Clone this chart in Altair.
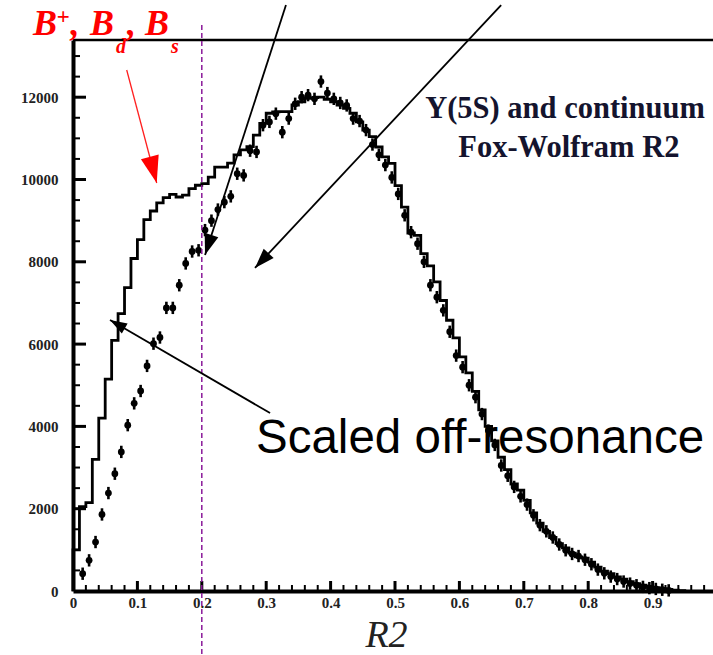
import math
import altair as alt
import pandas as pd

# ---------------- data ----------------
# Scaled off-resonance histogram: bins of width 0.01 starting at R2 = 0
hist_counts = [1000, 2050, 2150, 3200, 4200, 5150, 6090, 6740, 7370, 8080,
               8540, 9025, 9235, 9430, 9560, 9640, 9575, 9620, 9780, 9860,
               9900, 10060, 10300, 10300, 10400, 10600, 10720, 10800, 11080, 11365,
               11610, 11645, 11650, 11650, 11810, 11890, 11970, 11990, 12000, 11950,
               11890, 11810, 11730, 11610, 11400, 11200, 11040, 10790, 10550, 10390,
               9850, 9330, 8700, 8640, 8200, 7900, 7510, 7060, 6580, 6150,
               5690, 5300, 4850, 4400, 4000, 3650, 3250, 2950, 2600, 2450,
               2200, 1900, 1650, 1450, 1300, 1150, 1050, 920, 830, 800,
               700, 580, 480, 420, 340, 290, 230, 180, 140, 110,
               80, 60, 40, 20, 10]
hist_left = [round(i * 0.01, 2) for i in range(len(hist_counts))]

# Y(5S) data points, bin centres 0.015, 0.025, ...
pts_counts = [420, 745, 1190, 1860, 2380, 2850, 3380, 4030, 4560, 4860,
              5470, 6010, 6160, 6880, 6880, 7430, 7960, 8250, 8280, 8770,
              9000, 9270, 9450, 9590, 10140, 10100, 10700, 10670, 11320, 11400,
              11600, 11150, 11480, 11840, 12000, 12050, 11960, 12380, 12100, 11960,
              11860, 11800, 11480, 11420, 11200, 10850, 10600, 10350, 10050, 9650,
              9130, 8720, 8440, 8000, 7430, 7140, 6820, 6300, 5720, 5440,
              5000, 4710, 4300, 3900, 3550, 3050, 2800, 2530, 2300, 2100,
              1840, 1600, 1450, 1300, 1130, 990, 900, 850, 760, 650,
              520, 430, 350, 290, 230, 180, 140, 100, 70, 50,
              30, 15]
pts_x = [round(0.015 + i * 0.01, 3) for i in range(len(pts_counts))]

x_tick_labels = [0, 0.1, 0.2, 0.3, 0.4, 0.5, 0.6, 0.7, 0.8, 0.9]
x_minor = [round(0.02 * i, 2) for i in range(1, 50) if i % 5 != 0]
y_tick_labels = [0, 2000, 4000, 6000, 8000, 10000, 12000]
y_minor = [500 * i for i in range(1, 27) if i % 4 != 0]

# ---------------- geometry ----------------
W, H = 640, 551
XMAX = W / 644.0
YMAX = 13390
PX_X = 644.0
PX_Y = H / YMAX

xs = alt.Scale(domain=[0, XMAX], nice=False, zero=False)
ys = alt.Scale(domain=[0, YMAX], nice=False, zero=False)
x_axis = alt.Axis(values=x_tick_labels, format="~g", ticks=False, grid=False, title=None,
                  domainWidth=4, domainColor="black", labelFont="Liberation Serif",
                  labelFontWeight="bold", labelFontSize=15, labelColor="#222222",
                  labelPadding=4, labelFlush=False, labelOverlap=False, labelBound=False)
y_axis = alt.Axis(values=y_tick_labels, format="d", ticks=False, grid=False, title=None,
                  domainWidth=4, domainColor="black", labelFont="Liberation Serif",
                  labelFontWeight="bold", labelFontSize=15, labelColor="#222222",
                  labelPadding=15, labelFlush=False, labelOverlap=False, labelBound=False)


def X(f):
    return alt.X(f, type="quantitative", scale=xs, axis=x_axis)


def Y(f):
    return alt.Y(f, type="quantitative", scale=ys, axis=y_axis)


# histogram outline
hx = [0.0] + hist_left + [round(hist_left[-1] + 0.01, 2)]
hy = [0] + hist_counts + [0]
hist_df = pd.DataFrame({"x": hx, "y": hy, "i": list(range(len(hx)))})
hist = alt.Chart(hist_df).mark_line(interpolate="step-after", color="black",
                                    strokeWidth=2.8).encode(x=X("x"), y=Y("y"), order="i:Q")

pts_df = pd.DataFrame({"x": pts_x, "y": pts_counts})
pts_df["lo"] = pts_df["y"] - 150
pts_df["hi"] = pts_df["y"] + 150
pts_df["xl"] = pts_df["x"] - 0.004
pts_df["xr"] = pts_df["x"] + 0.004
ebar = alt.Chart(pts_df).mark_rule(color="black", strokeWidth=2.6).encode(
    x=X("x"), y=Y("lo"), y2="hi")
hbar = alt.Chart(pts_df).mark_rule(color="black", strokeWidth=2.4).encode(
    x=X("xl"), x2="xr", y=Y("y"))
pts = alt.Chart(pts_df).mark_point(filled=True, color="black", opacity=1, size=46).encode(
    x=X("x"), y=Y("y"))

# inner ticks
ymaj = alt.Chart(pd.DataFrame({"v": y_tick_labels[1:]})).mark_rule(
    color="black", strokeWidth=3).encode(y=Y("v"), x=alt.value(0), x2=alt.value(13))
ymin = alt.Chart(pd.DataFrame({"v": y_minor})).mark_rule(
    color="black", strokeWidth=2).encode(y=Y("v"), x=alt.value(0), x2=alt.value(7))
xmaj = alt.Chart(pd.DataFrame({"v": x_tick_labels[1:]})).mark_rule(
    color="black", strokeWidth=3).encode(x=X("v"), y=alt.value(H), y2=alt.value(H - 10))
xmin = alt.Chart(pd.DataFrame({"v": x_minor})).mark_rule(
    color="black", strokeWidth=2).encode(x=X("v"), y=alt.value(H), y2=alt.value(H - 6))

top_border = alt.Chart(pd.DataFrame({"a": [0]})).mark_rule(
    color="black", strokeWidth=2.5).encode(x=alt.value(0), x2=alt.value(W), y=alt.value(0))

cut_line = alt.Chart(pd.DataFrame({"a": [0]})).mark_rule(
    color="#8a1a9a", strokeWidth=1.5, strokeDash=[5, 3]).encode(
    x=alt.datum(0.2, scale=xs), y=alt.value(-15), y2=alt.value(H + 70))


# arrows (start -> tip, in data units)
def arrow_rows(items):
    rows = []
    for x0, y0, x1, y1, length in items:
        dxp = (x1 - x0) * PX_X
        dyp = -(y1 - y0) * PX_Y
        ang = math.degrees(math.atan2(dxp, -dyp)) % 360
        rows.append({"x0": x0, "y0": y0, "x1": x1, "y1": y1, "ang": ang,
                     "sz": 4 * length * length})
    return pd.DataFrame(rows)


black_arrows = arrow_rows([
    (0.3307, 14240, 0.205, 8165, 21),
    (0.6648, 14240, 0.2826, 7850, 20),
    (0.306, 4325, 0.0575, 6585, 17),
])
red_arrow = arrow_rows([(0.0834, 12660, 0.1300, 9914, 27)])
HEAD = "M0,0L0.34,1L-0.34,1Z"

b_lines = alt.Chart(black_arrows).mark_rule(color="black", strokeWidth=1.8).encode(
    x=X("x0"), y=Y("y0"), x2="x1", y2="y1")
b_heads = alt.Chart(black_arrows).mark_point(shape=HEAD, filled=True, color="black",
                                             opacity=1).encode(
    x=X("x1"), y=Y("y1"), angle=alt.Angle("ang:Q", scale=None),
    size=alt.Size("sz:Q", scale=None))
r_lines = alt.Chart(red_arrow).mark_rule(color="#ff2020", strokeWidth=1.3).encode(
    x=X("x0"), y=Y("y0"), x2="x1", y2="y1")
r_heads = alt.Chart(red_arrow).mark_point(shape=HEAD, filled=True, color="#ff0000",
                                          opacity=1).encode(
    x=X("x1"), y=Y("y1"), angle=alt.Angle("ang:Q", scale=None),
    size=alt.Size("sz:Q", scale=None))

# texts
red_txt = pd.DataFrame({
    "t": ["B", "+", ",", "B", "d", ",", "B", "s"],
    "x": [-0.0620, -0.0255, -0.0040, 0.0264, 0.0668, 0.0840, 0.1118, 0.1522],
    "y": [13511, 13780, 13511, 13511, 13073, 13511, 13511, 13073],
    "fs": [36, 23, 36, 36, 20, 36, 36, 20],
})
red_text = alt.Chart(red_txt).mark_text(font="Liberation Serif", fontStyle="italic",
                                        fontWeight="bold", color="#ff0000", align="left",
                                        baseline="alphabetic").encode(
    x=X("x"), y=Y("y"), text="t:N", size=alt.Size("fs:Q", scale=None))

title_txt = pd.DataFrame({"t": ["Y(5S) and continuum", "Fox-Wolfram R2"],
                          "x": [0.764, 0.770], "y": [11494, 10546]})
title_text = alt.Chart(title_txt).mark_text(font="Liberation Serif", fontWeight="bold",
                                            fontSize=30.5, color="#14142e", align="center",
                                            baseline="alphabetic").encode(
    x=X("x"), y=Y("y"), text="t:N")

off_txt = pd.DataFrame({"t": ["Scaled off-resonance"], "x": [0.2842], "y": [3353]})
off_text = alt.Chart(off_txt).mark_text(font="Liberation Sans", fontSize=47.5, color="black",
                                        align="left", baseline="alphabetic").encode(
    x=X("x"), y=Y("y"), text="t:N")

r2_txt = pd.DataFrame({"t": ["R2"], "x": [0.4868], "y": [-1555]})
r2_text = alt.Chart(r2_txt).mark_text(font="Liberation Serif", fontStyle="italic",
                                      fontSize=38, color="#222222", align="center",
                                      baseline="bottom").encode(
    x=X("x"), y=Y("y"), text="t:N")

chart = alt.layer(
    hist, ebar, hbar, pts, ymaj, ymin, xmaj, xmin, top_border, cut_line,
    b_lines, b_heads, r_lines, r_heads, red_text, title_text, off_text, r2_text
).properties(
    width=W, height=H,
    padding={"left": 73, "top": 40, "right": 0, "bottom": 64},
    autosize=alt.AutoSizeParams(type="none"),
    background="white",
).configure_view(stroke=None)

chart.save("out.html", embed_options={"renderer": "svg", "actions": False})
